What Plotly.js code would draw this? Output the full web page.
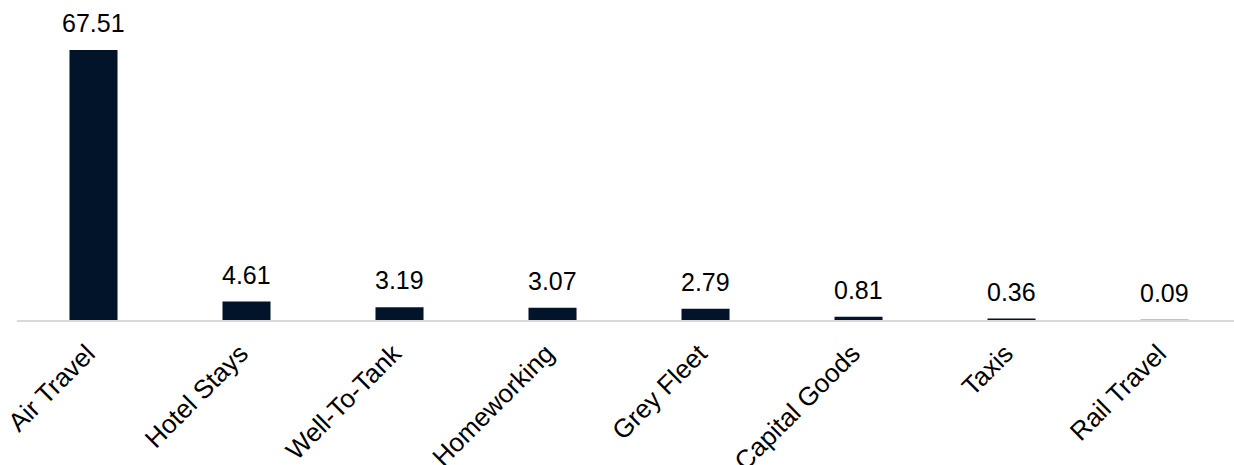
<!DOCTYPE html>
<html>
<head>
<meta charset="utf-8">
<script src="https://cdn.plot.ly/plotly-3.0.1.min.js"></script>
<style>html,body{margin:0;padding:0;background:#fff;}#chart{width:1234px;height:465px;}</style>
</head>
<body>
<div id="chart"></div>
<script>
const categories = ["Air Travel", "Hotel Stays", "Well-To-Tank", "Homeworking", "Grey Fleet", "Capital Goods", "Taxis", "Rail Travel"];
const values = [67.51, 4.61, 3.19, 3.07, 2.79, 0.81, 0.36, 0.09];
const valueLabels = ["67.51", "4.61", "3.19", "3.07", "2.79", "0.81", "0.36", "0.09"];

const FONT = "Liberation Sans, Arial, sans-serif";

const trace = {
  type: "bar",
  x: categories,
  y: values,
  marker: {color: "#021429"},
  hoverinfo: "skip"
};

const annotations = categories.map((c, i) => ({
  x: c, y: values[i], xref: "x", yref: "y",
  text: valueLabels[i], showarrow: false,
  yanchor: "bottom", yshift: 11,
  font: {family: FONT, size: 25, color: "#000000"}
}));

const layout = {
  width: 1234, height: 465,
  margin: {l: 17, r: 0, t: 20, b: 145},
  paper_bgcolor: "#ffffff", plot_bgcolor: "#ffffff",
  bargap: 0.686,
  showlegend: false,
  xaxis: {
    type: "category",
    range: [-0.5, 7.454],
    showline: true, linecolor: "#d9d9d9", linewidth: 2,
    ticks: "", showgrid: false, zeroline: false,
    tickangle: -45,
    ticklabelstandoff: 6,
    ticklabelshift: -6,
    tickfont: {family: FONT, size: 26, color: "#000000"}
  },
  yaxis: {
    range: [0, 75],
    visible: false, showgrid: false, zeroline: false
  },
  annotations: annotations
};

Plotly.newPlot("chart", [trace], layout, {staticPlot: true, displayModeBar: false});
</script>
</body>
</html>
